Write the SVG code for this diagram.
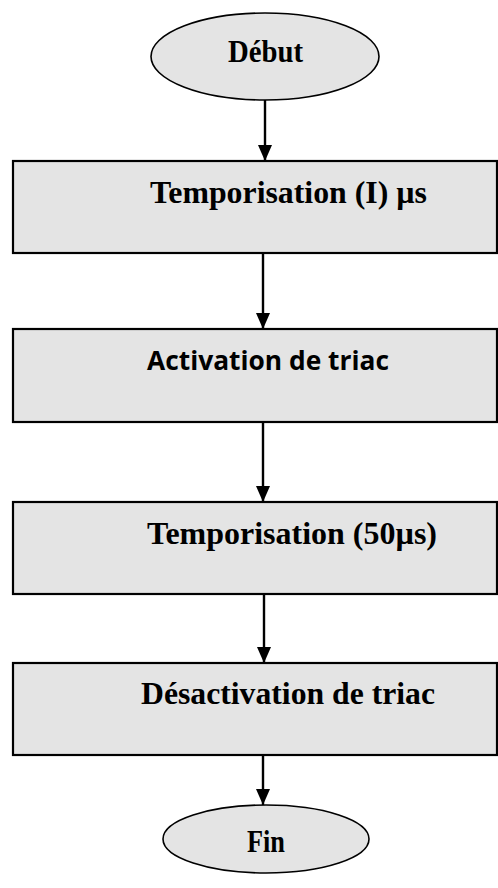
<svg xmlns="http://www.w3.org/2000/svg" width="498" height="888" viewBox="0 0 498 888">
  <style>
    .term { fill: #e4e4e4; stroke: #000; stroke-width: 1.6; }
    .step { fill: #e4e4e4; stroke: #000; stroke-width: 2.2; }
    .serif { font-family: "Liberation Serif", "Times New Roman", serif; font-weight: bold; font-size: 31px; fill: #000; }
    .sans { font-family: "Open Sans", "Liberation Sans", sans-serif; font-weight: bold; font-size: 27px; fill: #000; }
    .link { stroke: #000; stroke-width: 2.4; fill: none; marker-end: url(#head); }
  </style>
  <defs>
    <marker id="head" viewBox="0 0 16 14" refX="16" refY="7" markerWidth="16" markerHeight="14" markerUnits="userSpaceOnUse" orient="auto">
      <path d="M0,0 L16,7 L0,14 Z" fill="#000"/>
    </marker>
  </defs>

  <rect width="498" height="888" fill="#fff"/>

  <g id="connectors">
    <line class="link" x1="265" y1="100" x2="265" y2="161"/>
    <line class="link" x1="263" y1="253" x2="263" y2="329"/>
    <line class="link" x1="263" y1="422" x2="263" y2="502"/>
    <line class="link" x1="264" y1="594" x2="264" y2="663"/>
    <line class="link" x1="263" y1="755" x2="263" y2="805"/>
  </g>

  <g id="debut">
    <ellipse class="term" cx="265" cy="56.5" rx="114" ry="43.5"/>
    <text class="serif" x="228" y="62" textLength="75" lengthAdjust="spacingAndGlyphs">Début</text>
  </g>

  <g id="temporisation-i">
    <rect class="step" x="13" y="161" width="484" height="92"/>
    <text class="serif" x="150" y="203" textLength="277" lengthAdjust="spacingAndGlyphs">Temporisation (I) µs</text>
  </g>

  <g id="activation">
    <rect class="step" x="13" y="329" width="484" height="93"/>
    <text class="sans" x="147" y="370" textLength="242" lengthAdjust="spacingAndGlyphs">Activation de triac</text>
  </g>

  <g id="temporisation-50">
    <rect class="step" x="13" y="502" width="484" height="92"/>
    <text class="serif" x="147" y="544" textLength="290" lengthAdjust="spacingAndGlyphs">Temporisation (50µs)</text>
  </g>

  <g id="desactivation">
    <rect class="step" x="13" y="663" width="484" height="92"/>
    <text class="serif" x="141" y="704" textLength="294" lengthAdjust="spacingAndGlyphs">Désactivation de triac</text>
  </g>

  <g id="fin">
    <ellipse class="term" cx="266" cy="839" rx="103" ry="34"/>
    <text class="serif" x="247" y="852" textLength="38" lengthAdjust="spacingAndGlyphs">Fin</text>
  </g>
</svg>
